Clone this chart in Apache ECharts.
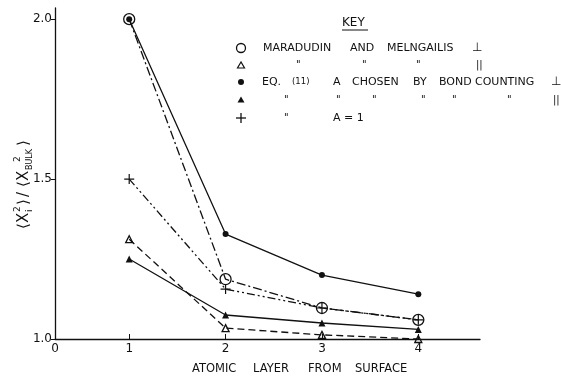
<!DOCTYPE html>
<html>
<head>
<meta charset="utf-8">
<script src="https://cdn.jsdelivr.net/npm/echarts@6/dist/echarts.min.js"></script>
<style>
  html, body { margin: 0; padding: 0; background: #fff; }
  #main { width: 561px; height: 377px; }
</style>
</head>
<body>
<div id="main"></div>
<script>
// atomic layer (x) values
var layers = [1, 2, 3, 4];

// mean square displacement ratios
var maradudinPerp = [2.0, 1.187, 1.097, 1.06];    // open circle
var maradudinPar = [1.312, 1.034, 1.013, 1.0];    // open triangle
var bondPerp = [2.0, 1.328, 1.2, 1.14];           // filled circle
var bondPar = [1.25, 1.075, 1.05, 1.03];          // filled triangle
var aOne = [1.5, 1.156, 1.097, 1.06];             // plus

// axis ticks
var xTicks = [1, 2, 3, 4];
var yTicks = [1.0, 1.5, 2.0];

var X_MIN = 0.23, X_MAX = 4.64;
var INK = '#111';
var FONT = '"DejaVu Sans", sans-serif';

function pairs(ys) {
    return layers.map(function (x, i) { return [x, ys[i]]; });
}

var plusPath = 'path://M4.4,0h1.2v10h-1.2zM0,4.4h10v1.2h-10z';

function mkSeries(name, ys, symbol, size, hollow, lineType, z) {
    return {
        name: name,
        type: 'line',
        data: pairs(ys),
        symbol: symbol,
        symbolSize: size,
        z: z,
        animation: false,
        lineStyle: { color: INK, width: 1.3, type: lineType },
        itemStyle: hollow
            ? { color: 'rgba(0,0,0,0)', borderColor: INK, borderWidth: 1.3 }
            : { color: INK, borderWidth: 0 }
    };
}

// text placed by its left edge and vertical middle
function txt(x, y, s, size) {
    return {
        type: 'text', x: x, y: y,
        style: { text: s, fill: INK, font: (size || 11) + 'px ' + FONT, verticalAlign: 'middle' }
    };
}

// y-axis title, built piece by piece so the sub/superscripts stack
function yTitle() {
    var parts = [
        [0, 0, '\u27E8', 15], [6, 0, 'X', 15], [17, -6, '2', 9], [17, 6, 'i', 9], [24, 0, '\u27E9', 15],
        [32, 0, '/', 15],
        [42, 0, '\u27E8', 15], [48, 0, 'X', 15], [67, -6, '2', 9], [59, 6, 'BULK', 8], [83, 0, '\u27E9', 15]
    ];
    return {
        type: 'group', x: 24, y: 183, rotation: Math.PI / 2,
        children: parts.map(function (p) { return txt(p[0] - 46, p[1], p[2], p[3]); })
    };
}

var keyItems = [
    txt(342, 23, 'KEY', 12),
    { type: 'line', shape: { x1: 342, y1: 30, x2: 368, y2: 30 }, style: { stroke: INK, lineWidth: 1 } },

    txt(263, 48, 'MARADUDIN', 11), txt(350, 48, 'AND', 11), txt(387, 48, 'MELNGAILIS', 11), txt(472, 48, '\u22A5', 12),
    txt(296, 65, '"', 10), txt(362, 65, '"', 10), txt(416, 65, '"', 10), txt(476, 65, '||', 10),
    txt(262, 82, 'EQ.', 11), txt(292, 82, '(11)', 8.5), txt(333, 82, 'A', 11), txt(352, 82, 'CHOSEN', 11),
    txt(413, 82, 'BY', 11), txt(439, 82, 'BOND', 11), txt(475, 82, 'COUNTING', 11), txt(551, 82, '\u22A5', 12),
    txt(284, 100, '"', 10), txt(336, 100, '"', 10), txt(372, 100, '"', 10), txt(421, 100, '"', 10),
    txt(452, 100, '"', 10), txt(507, 100, '"', 10), txt(553, 100, '||', 10),
    txt(284, 118, '"', 10), txt(333, 118, 'A = 1', 11),

    { type: 'circle', shape: { cx: 241, cy: 48, r: 4.5 }, style: { fill: 'none', stroke: INK, lineWidth: 1.3 } },
    { type: 'polygon', shape: { points: [[241, 62], [237.5, 68], [244.5, 68]] }, style: { fill: 'none', stroke: INK, lineWidth: 1.2 } },
    { type: 'circle', shape: { cx: 241, cy: 82, r: 3 }, style: { fill: INK } },
    { type: 'polygon', shape: { points: [[241, 96.5], [237.5, 102.5], [244.5, 102.5]] }, style: { fill: INK } },
    { type: 'line', shape: { x1: 236, y1: 118, x2: 246, y2: 118 }, style: { stroke: INK, lineWidth: 1.3 } },
    { type: 'line', shape: { x1: 241, y1: 113, x2: 241, y2: 123 }, style: { stroke: INK, lineWidth: 1.3 } },

    // x-axis title, word by word
    txt(192, 369, 'ATOMIC', 11.5), txt(253, 369, 'LAYER', 11.5), txt(308, 369, 'FROM', 11.5), txt(355, 369, 'SURFACE', 11.5),
    yTitle()
];

var chart = echarts.init(document.getElementById('main'));

var option = {
    backgroundColor: '#fff',
    animation: false,
    grid: { left: 55, right: 81, top: 8, bottom: 38 },
    xAxis: {
        type: 'value',
        min: X_MIN,
        max: X_MAX,
        splitLine: { show: false },
        axisLine: { lineStyle: { color: INK, width: 1.3 } },
        axisTick: { inside: true, length: 5, customValues: xTicks, lineStyle: { color: INK } },
        axisLabel: {
            customValues: [X_MIN].concat(xTicks),
            formatter: function (v) { return v === X_MIN ? '0' : String(Math.round(v)); },
            color: INK, fontSize: 12, fontFamily: FONT, margin: 4
        }
    },
    yAxis: {
        type: 'value',
        min: 1.0,
        max: 2.035,
        splitLine: { show: false },
        axisLine: { lineStyle: { color: INK, width: 1.3 } },
        axisTick: { length: 4, customValues: yTicks, lineStyle: { color: INK } },
        axisLabel: {
            customValues: yTicks,
            formatter: function (v) { return v.toFixed(1); },
            color: INK, fontSize: 12, fontFamily: FONT, margin: 3
        }
    },
    graphic: keyItems,
    series: [
        mkSeries('Maradudin perp', maradudinPerp, 'circle', 11, true, [9, 3, 2, 3], 3),
        mkSeries('Maradudin par', maradudinPar, 'triangle', 7, true, [7, 4], 3),
        mkSeries('Bond perp', bondPerp, 'circle', 6, false, 'solid', 3),
        mkSeries('Bond par', bondPar, 'triangle', 7, false, 'solid', 3),
        mkSeries('A = 1', aOne, plusPath, 10, false, [8, 3, 2, 3, 2, 3], 4)
    ]
};

chart.setOption(option);
</script>
</body>
</html>
